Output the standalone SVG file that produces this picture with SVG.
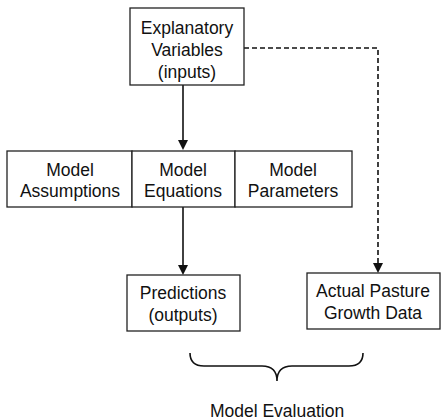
<svg xmlns="http://www.w3.org/2000/svg" width="444" height="420" viewBox="0 0 444 420">
<style>
.box{fill:#fff;stroke:#222;stroke-width:1.3}
.t{font-family:"Liberation Sans",Arial,sans-serif;font-size:17.5px;fill:#111;text-anchor:middle}
.c{fill:none;stroke:#111;stroke-width:1.6}
.d{fill:none;stroke:#111;stroke-width:1.6;stroke-dasharray:5,3}
.h{fill:#111}
</style>
<rect width="444" height="420" fill="#fff"/>
<g id="connectors">
<path class="c" d="M183,85 V141"/>
<path class="h" d="M178,140 L188,140 L183,150 Z"/>
<path class="c" d="M183,207 V266"/>
<path class="h" d="M178,265 L188,265 L183,275 Z"/>
<path class="d" d="M244,48 H378 V263"/>
<path class="h" d="M373,263 L383,263 L378,273 Z"/>
</g>
<g id="explanatory">
<rect class="box" x="130" y="8" width="114" height="77"/>
<text class="t" x="187" y="34">Explanatory</text>
<text class="t" x="187" y="56">Variables</text>
<text class="t" x="187" y="78">(inputs)</text>
</g>
<g id="assumptions">
<rect class="box" x="7" y="151" width="125" height="56"/>
<text class="t" x="70" y="176">Model</text>
<text class="t" x="70" y="197">Assumptions</text>
</g>
<g id="equations">
<rect class="box" x="132" y="151" width="103" height="56"/>
<text class="t" x="183" y="176">Model</text>
<text class="t" x="183" y="197">Equations</text>
</g>
<g id="parameters">
<rect class="box" x="235" y="151" width="117" height="56"/>
<text class="t" x="293" y="176">Model</text>
<text class="t" x="293" y="197">Parameters</text>
</g>
<g id="predictions">
<rect class="box" x="127" y="275" width="113" height="56"/>
<text class="t" x="183" y="299">Predictions</text>
<text class="t" x="183" y="321">(outputs)</text>
</g>
<g id="actual">
<rect class="box" x="307" y="273" width="133" height="56"/>
<text class="t" x="373" y="297">Actual Pasture</text>
<text class="t" x="373" y="319">Growth Data</text>
</g>
<g id="evaluation">
<path class="c" d="M190,353 Q190,366 204,366 H262 Q277,366 277,381 Q277,366 292,366 H349 Q363,366 363,353"/>
<text class="t" x="277" y="417">Model Evaluation</text>
</g>
</svg>
